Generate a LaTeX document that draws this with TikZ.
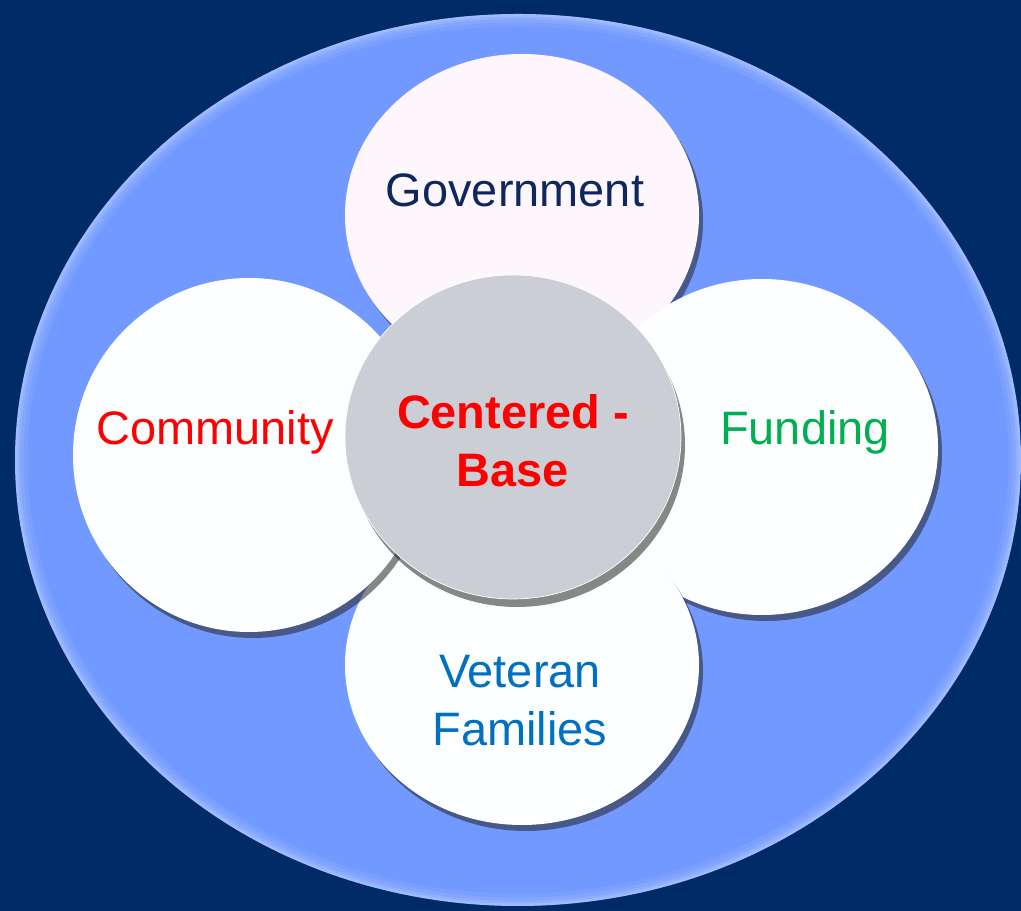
\documentclass[tikz,border=0pt]{standalone}
\usepackage{fontspec}
\setmainfont{Liberation Sans}
\definecolor{navy}{RGB}{0,43,102}
\definecolor{ringblue}{RGB}{114,153,255}
\definecolor{petal}{RGB}{253,254,255}
\definecolor{petalpink}{RGB}{253,246,253}
\definecolor{hub}{RGB}{203,206,213}
\definecolor{govtext}{RGB}{14,40,94}
\definecolor{fundtext}{RGB}{0,176,80}
\definecolor{vettext}{RGB}{0,112,192}
\newcommand{\petalshape}[3]% center, xdim, ydim
{(#1) ellipse (#2 and #3)
}
\tikzset{
	label/.style={font=\fontsize{26.7}{33}\selectfont, align=center, inner sep=0pt},
	shade/.style={fill=black!85, opacity=0.55},
}

\begin{document}
\begin{tikzpicture}[x=0.02cm, y=0.02cm]
	\useasboundingbox (0,0) rectangle (1021,911);
	\fill[navy] (0,0) rectangle (1021,911);
	% outer ring with a light rim
	\fill[ringblue] \petalshape{518,451}{503}{446};
	\begin{scope}
		\clip \petalshape{518,451}{503}{446};
		\foreach \w/\o in {0.5/0.06, 0.34/0.08, 0.2/0.1, 0.1/0.14}
			\draw[white, opacity=\o, line width=\w cm] \petalshape{518,451}{503}{446};
	\end{scope}
	% petals, each on its shadow
	\fill[shade] \petalshape{526,690}{177}{161};
	\fill[petalpink] \petalshape{522,696}{177}{161};%top
	\fill[shade] \petalshape{766,458}{176}{168};
	\fill[petal] \petalshape{762,464}{176}{168};%right
	\fill[shade] \petalshape{526,240}{177}{160};
	\fill[petal] \petalshape{522,246}{177}{160};%bottom
	\fill[shade] \petalshape{253,450}{176}{177};
	\fill[petal] \petalshape{249,456}{176}{177};%left
	% hub
	\fill[shade] \petalshape{517,466}{168}{162};
	\filldraw[fill=hub, draw=white, line width=0.4pt] \petalshape{513,474}{168}{162};
	\node[label, govtext] (gov) at (515,721) {Government};
	\node[label, red] (comm) at (215,479) {Community};
	\node[label, fundtext] (fund) at (805,479) {Funding};
	\node[label, vettext] (vet) at (520,210) {Veteran\\Families};
	\node[label, red, font=\fontsize{26.7}{33}\selectfont\bfseries] (base) at (513,470) {Centered -\\Base};
\end{tikzpicture}
\end{document}
